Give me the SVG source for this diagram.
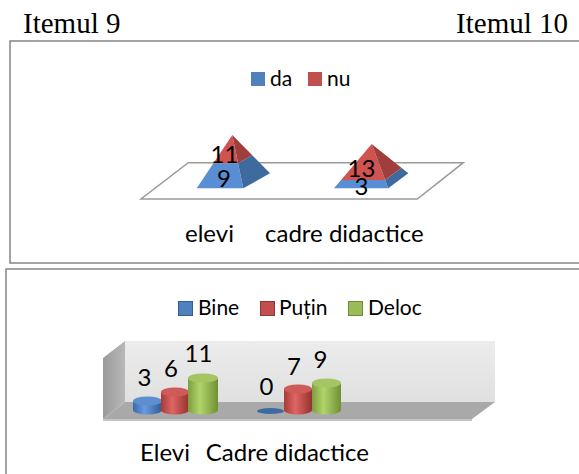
<svg xmlns="http://www.w3.org/2000/svg" width="579" height="474" viewBox="0 0 579 474">
<style>
.title{font-family:"Liberation Serif","Times New Roman",serif;font-size:29px;fill:#000}
.lbl{font-family:Lato,"Liberation Sans",sans-serif;fill:#000}
.leg{font-size:21px}
.dl{font-size:24px;text-anchor:middle}
.cat{font-size:24px}
.frame{fill:none;stroke:#8c8c8c;stroke-width:1.6}
</style>
<defs>
<linearGradient id="gBlue" x1="0" x2="1" y1="0" y2="0"><stop offset="0" stop-color="#3a6aa8"/><stop offset="0.4" stop-color="#6a9be0"/><stop offset="1" stop-color="#2f5b94"/></linearGradient>
<linearGradient id="gRed" x1="0" x2="1" y1="0" y2="0"><stop offset="0" stop-color="#a83a37"/><stop offset="0.4" stop-color="#dd6663"/><stop offset="1" stop-color="#96322f"/></linearGradient>
<linearGradient id="gGreen" x1="0" x2="1" y1="0" y2="0"><stop offset="0" stop-color="#7d9e3c"/><stop offset="0.4" stop-color="#b2d46c"/><stop offset="1" stop-color="#6f8f33"/></linearGradient>
<linearGradient id="gWall" x1="0" x2="0" y1="0" y2="1"><stop offset="0" stop-color="#ececec"/><stop offset="1" stop-color="#e0e0e0"/></linearGradient>
<linearGradient id="gSide" x1="0" x2="1" y1="0" y2="0"><stop offset="0" stop-color="#9a9a9a"/><stop offset="1" stop-color="#b8b8b8"/></linearGradient>
</defs>

<text class="title" x="23" y="33">Itemul 9</text>
<text class="title" x="568" y="33" text-anchor="end">Itemul 10</text>

<g id="chart1">
<rect class="frame" x="10" y="41" width="580" height="222"/>
<g id="legend1">
<rect x="251" y="72" width="14" height="14" fill="#4f81bd"/>
<text class="lbl leg" x="270" y="86">da</text>
<rect x="308" y="72" width="14" height="14" fill="#c0504d"/>
<text class="lbl leg" x="327" y="86">nu</text>
</g>
<polygon id="floor1" points="188.3,162.7 463.3,162.7 417.3,199 141,199" fill="#fff" stroke="#9a9a9a" stroke-width="1.5"/>
<g id="pyr-elevi">
<polygon points="213.4,163.3 238.1,163.3 243.3,188.3 196.7,188.3" fill="#5a8ed4"/>
<polygon points="238.1,163.3 252.3,155.3 270,173.3 243.3,188.3" fill="#3f6a9e"/>
<polygon points="232.3,135 213.4,163.3 238.1,163.3" fill="#d0534f"/>
<polygon points="232.3,135 238.1,163.3 252.3,155.3" fill="#9e3f3d"/>
<text class="lbl dl" x="224.5" y="163">11</text>
<text class="lbl dl" x="224" y="187">9</text>
</g>
<g id="pyr-cadre">
<polygon points="341.1,180 385.2,180 388.3,188.3 334,188.3" fill="#5a8ed4"/>
<polygon points="385.2,180 401.4,167.8 408.3,173.3 388.3,188.3" fill="#3f6a9e"/>
<polygon points="371.7,144 341.1,180 385.2,180" fill="#d0534f"/>
<polygon points="371.7,144 385.2,180 401.4,167.8" fill="#9e3f3d"/>
<text class="lbl dl" x="361.5" y="177">13</text>
<text class="lbl dl" x="361.5" y="195">3</text>
</g>
<text class="lbl cat" x="185" y="242">elevi</text>
<text class="lbl cat" x="265" y="242">cadre didactice</text>
</g>

<g id="chart2">
<rect class="frame" x="6" y="269" width="590" height="220"/>
<g id="legend2">
<rect x="178.5" y="301.5" width="14" height="14" fill="#4f81bd" stroke="#385d8a" stroke-width="1"/>
<text class="lbl leg" x="198" y="315">Bine</text>
<rect x="260.5" y="301.5" width="14" height="14" fill="#c0504d" stroke="#8c3836" stroke-width="1"/>
<text class="lbl leg" x="279" y="315">Puțin</text>
<rect x="348.5" y="301.5" width="14" height="14" fill="#9bbb59" stroke="#71893f" stroke-width="1"/>
<text class="lbl leg" x="368" y="315">Deloc</text>
</g>
<g id="box">
<rect x="125" y="341" width="370" height="61" fill="url(#gWall)"/>
<polygon points="103,358 125,341 125,402 103,419" fill="url(#gSide)"/>
<polygon points="125,402 495,402 472,419 103,419" fill="#a9a9a9"/>
<polygon points="103,419 472,419 472,421 103,421" fill="#c4c4c4"/>
</g>
<g id="bars-elevi">
<path d="M133,401 L133,410 A14.5,4.5 0 0 0 162,410 L162,401 Z" fill="url(#gBlue)"/>
<ellipse cx="147.5" cy="401" rx="14.5" ry="4.5" fill="#5d8fd0"/>
<path d="M161,392 L161,410 A14,4.5 0 0 0 189,410 L189,392 Z" fill="url(#gRed)"/>
<ellipse cx="175" cy="392" rx="14" ry="4.5" fill="#cf5a57"/>
<path d="M188,378 L188,410 A15,4.5 0 0 0 218,410 L218,378 Z" fill="url(#gGreen)"/>
<ellipse cx="203" cy="378" rx="15" ry="4.5" fill="#a5c463"/>
<text class="lbl dl" x="144.5" y="386">3</text>
<text class="lbl dl" x="171" y="377">6</text>
<text class="lbl dl" x="198.5" y="362">11</text>
</g>
<g id="bars-cadre">
<ellipse cx="270.5" cy="411" rx="13.5" ry="3" fill="#3d6aa3"/>
<path d="M284,389 L284,410 A14,4.5 0 0 0 312,410 L312,389 Z" fill="url(#gRed)"/>
<ellipse cx="298" cy="389" rx="14" ry="4.5" fill="#cf5a57"/>
<path d="M312,383 L312,410 A14.5,4.5 0 0 0 341,410 L341,383 Z" fill="url(#gGreen)"/>
<ellipse cx="326.5" cy="383" rx="14.5" ry="4.5" fill="#a5c463"/>
<text class="lbl dl" x="266.5" y="395">0</text>
<text class="lbl dl" x="294" y="375">7</text>
<text class="lbl dl" x="320.5" y="368">9</text>
</g>
<text class="lbl cat" x="140" y="461">Elevi</text>
<text class="lbl cat" x="369" y="461" text-anchor="end">Cadre didactice</text>
</g>
</svg>
